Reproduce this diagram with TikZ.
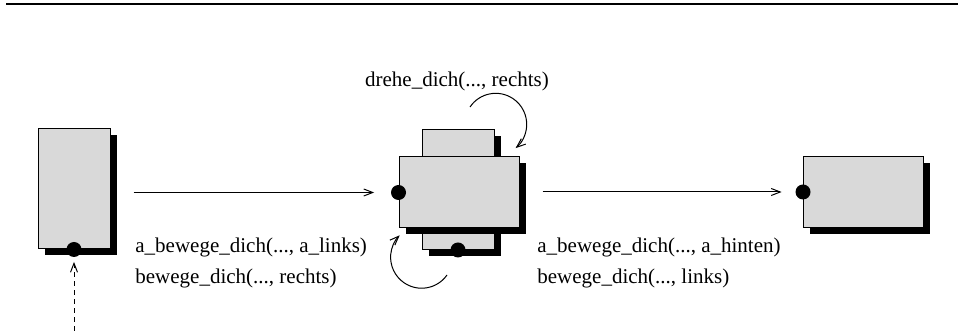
\documentclass[tikz,border=0pt]{standalone}
\usepackage{fontspec}
\setmainfont{Liberation Serif}
\usetikzlibrary{shadows,arrows.meta}

\begin{document}
\begin{tikzpicture}[
        x=0.5pt, y=0.5pt,
        font=\fontsize{10.5}{12.6}\selectfont,
        robot/.style={rectangle, draw, line width=0.5pt, fill=gray!30, inner sep=0pt,
            drop shadow={shadow xshift=3.25pt, shadow yshift=-3.25pt, fill=black, opacity=1}},
        hoch/.style={robot, minimum width=36pt, minimum height=60pt},
        quer/.style={robot, minimum width=60pt, minimum height=35.5pt},
        dot/.style={circle, fill=black, minimum size=7.5pt, inner sep=0pt},
        pfeil/.style={line width=0.5pt, -{Straight Barb[length=4.5pt, width=3.5pt]}},
        befehl/.style={anchor=base west, inner sep=0pt},
    ]
        \useasboundingbox (0,0) rectangle (958,331);
        \draw[line width=1pt] (6,327) -- (958,327);

        % Roboter vor, waehrend und nach der Drehung
        \node[hoch] (r1) at (74,142) {};
        \node[dot] (d1) at (r1.south) {};

        \node[hoch] (r2) at (458,141.5) {};
        \node[dot] (d2) at (r2.south) {};
        \node[quer] (r3) at (459,138.5) {};
        \node[dot] (d3) at (r3.west) {};

        \node[quer] (r4) at (863.5,139) {};
        \node[dot] (d4) at (r4.west) {};

        \coordinate (unten) at (74,0);

        \draw[pfeil, dashed, dash pattern=on 2.5pt off 2pt, shorten >=2.25pt] (unten) -- (d1.south);
        \draw[pfeil, shorten <=11.5pt, shorten >=8.25pt] (r1.east |- d3) -- (d3.west);
        \draw[pfeil, shorten <=11.5pt, shorten >=6.75pt] (r3.east |- d4) -- (d4.west);

        % Drehpfeile
        \draw[pfeil] ([shift={(11,85.5)}]r3.center) arc[start angle=146, end angle=-50, radius=31];
        \draw[pfeil] ([shift={(-12,-82.5)}]r3.center) arc[start angle=-35, end angle=-225, radius=31];

        \node[anchor=base] (b0) at (457,244) {drehe\_dich(..., rechts)};
        \node[befehl] (b1) at (135,78) {a\_bewege\_dich(..., a\_links)};
        \node[befehl] (b2) at (135,47) {bewege\_dich(..., rechts)};
        \node[befehl] (b3) at (537,78) {a\_bewege\_dich(..., a\_hinten)};
        \node[befehl] (b4) at (537,47) {bewege\_dich(..., links)};
    \end{tikzpicture}
\end{document}
